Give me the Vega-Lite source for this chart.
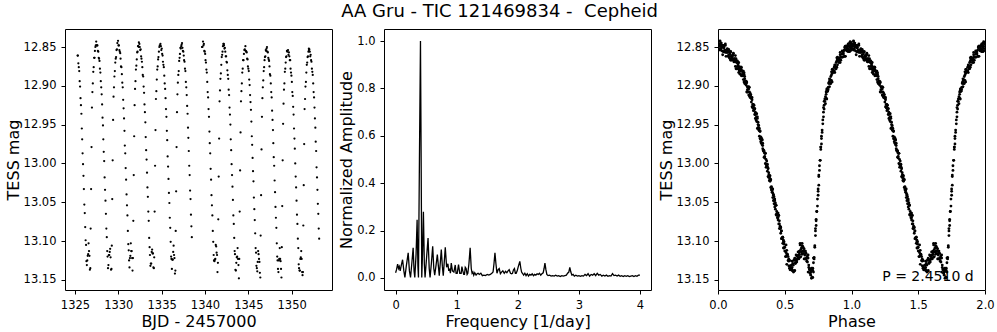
{
"$schema":"https://vega.github.io/schema/vega-lite/v6.json",
"padding":{"left":4,"top":2,"right":10,"bottom":4},
"title":{"text":"AA Gru - TIC 121469834 -\u00a0 Cepheid","fontSize":18,"offset":8},
"datasets":{
"lc":[
{"t":1325.30,"m":12.861,"p":0.11},{"t":1325.34,"m":12.861,"p":0.13},{"t":1325.39,"m":12.871,"p":0.15},{"t":1325.44,"m":12.876,"p":0.17},{"t":1325.49,"m":12.881,"p":0.19},{"t":1325.54,"m":12.894,"p":0.21},{"t":1325.59,"m":12.901,"p":0.23},{"t":1325.64,"m":12.916,"p":0.25},{"t":1325.69,"m":12.925,"p":0.27},{"t":1325.74,"m":12.936,"p":0.29},{"t":1325.79,"m":12.955,"p":0.31},{"t":1325.83,"m":12.969,"p":0.33},{"t":1325.88,"m":12.987,"p":0.35},{"t":1325.93,"m":13.001,"p":0.37},{"t":1325.98,"m":13.016,"p":0.39},{"t":1326.03,"m":13.033,"p":0.41},{"t":1326.08,"m":13.053,"p":0.43},{"t":1326.13,"m":13.064,"p":0.45},{"t":1326.18,"m":13.082,"p":0.47},{"t":1326.23,"m":13.099,"p":0.49},{"t":1326.28,"m":13.105,"p":0.51},{"t":1326.32,"m":13.126,"p":0.53},{"t":1326.37,"m":13.131,"p":0.55},{"t":1326.42,"m":13.125,"p":0.57},{"t":1326.47,"m":13.119,"p":0.59},{"t":1326.52,"m":13.117,"p":0.61},{"t":1326.57,"m":13.103,"p":0.63},{"t":1326.62,"m":13.113,"p":0.65},{"t":1326.67,"m":13.119,"p":0.67},{"t":1326.72,"m":13.137,"p":0.69},{"t":1326.77,"m":13.135,"p":0.71},{"t":1326.81,"m":13.084,"p":0.73},{"t":1326.86,"m":13.033,"p":0.75},{"t":1326.91,"m":12.979,"p":0.77},{"t":1326.96,"m":12.928,"p":0.79},{"t":1327.01,"m":12.908,"p":0.81},{"t":1327.06,"m":12.897,"p":0.83},{"t":1327.11,"m":12.882,"p":0.85},{"t":1327.16,"m":12.876,"p":0.87},{"t":1327.21,"m":12.864,"p":0.89},{"t":1327.26,"m":12.864,"p":0.91},{"t":1327.30,"m":12.855,"p":0.93},{"t":1327.35,"m":12.850,"p":0.95},{"t":1327.40,"m":12.848,"p":0.97},{"t":1327.45,"m":12.843,"p":0.99},
{"t":1327.49,"m":12.848,"p":0.005},{"t":1327.54,"m":12.848,"p":0.025},{"t":1327.59,"m":12.848,"p":0.045},{"t":1327.64,"m":12.855,"p":0.065},{"t":1327.69,"m":12.856,"p":0.085},{"t":1327.74,"m":12.864,"p":0.105},{"t":1327.78,"m":12.865,"p":0.125},{"t":1327.83,"m":12.868,"p":0.145},{"t":1327.88,"m":12.878,"p":0.165},{"t":1327.93,"m":12.883,"p":0.185},{"t":1327.98,"m":12.894,"p":0.205},{"t":1328.03,"m":12.902,"p":0.225},{"t":1328.08,"m":12.911,"p":0.245},{"t":1328.13,"m":12.924,"p":0.265},{"t":1328.18,"m":12.941,"p":0.285},{"t":1328.23,"m":12.951,"p":0.305},{"t":1328.27,"m":12.969,"p":0.325},{"t":1328.32,"m":12.985,"p":0.345},{"t":1328.37,"m":12.997,"p":0.365},{"t":1328.42,"m":13.018,"p":0.385},{"t":1328.47,"m":13.034,"p":0.405},{"t":1328.52,"m":13.048,"p":0.425},{"t":1328.57,"m":13.065,"p":0.445},{"t":1328.62,"m":13.084,"p":0.465},{"t":1328.67,"m":13.095,"p":0.485},{"t":1328.72,"m":13.113,"p":0.505},{"t":1328.76,"m":13.120,"p":0.525},{"t":1328.81,"m":13.135,"p":0.545},{"t":1328.86,"m":13.131,"p":0.565},{"t":1328.91,"m":13.118,"p":0.585},{"t":1328.96,"m":13.118,"p":0.605},{"t":1329.01,"m":13.114,"p":0.625},{"t":1329.06,"m":13.110,"p":0.645},{"t":1329.11,"m":13.121,"p":0.665},{"t":1329.16,"m":13.137,"p":0.685},{"t":1329.21,"m":13.136,"p":0.705},{"t":1329.25,"m":13.106,"p":0.725},{"t":1329.30,"m":13.046,"p":0.745},{"t":1329.35,"m":12.996,"p":0.765},{"t":1329.40,"m":12.944,"p":0.785},{"t":1329.45,"m":12.914,"p":0.805},{"t":1329.50,"m":12.902,"p":0.825},{"t":1329.55,"m":12.888,"p":0.845},{"t":1329.60,"m":12.881,"p":0.865},{"t":1329.65,"m":12.870,"p":0.885},{"t":1329.70,"m":12.865,"p":0.905},{"t":1329.74,"m":12.863,"p":0.925},{"t":1329.79,"m":12.854,"p":0.945},{"t":1329.84,"m":12.853,"p":0.965},{"t":1329.89,"m":12.845,"p":0.985},
{"t":1329.97,"m":12.842,"p":0.015},{"t":1330.02,"m":12.848,"p":0.035},{"t":1330.07,"m":12.848,"p":0.055},{"t":1330.12,"m":12.854,"p":0.075},{"t":1330.17,"m":12.856,"p":0.095},{"t":1330.22,"m":12.858,"p":0.115},{"t":1330.26,"m":12.865,"p":0.135},{"t":1330.31,"m":12.875,"p":0.155},{"t":1330.36,"m":12.876,"p":0.175},{"t":1330.41,"m":12.885,"p":0.195},{"t":1330.46,"m":12.896,"p":0.215},{"t":1330.51,"m":12.902,"p":0.235},{"t":1330.56,"m":12.918,"p":0.255},{"t":1330.61,"m":12.929,"p":0.275},{"t":1330.66,"m":12.942,"p":0.295},{"t":1330.71,"m":12.958,"p":0.315},{"t":1330.75,"m":12.977,"p":0.335},{"t":1330.80,"m":12.987,"p":0.355},{"t":1330.85,"m":13.006,"p":0.375},{"t":1330.90,"m":13.021,"p":0.395},{"t":1330.95,"m":13.040,"p":0.415},{"t":1331.00,"m":13.054,"p":0.435},{"t":1331.05,"m":13.067,"p":0.455},{"t":1331.10,"m":13.087,"p":0.475},{"t":1331.15,"m":13.104,"p":0.495},{"t":1331.20,"m":13.112,"p":0.515},{"t":1331.24,"m":13.125,"p":0.535},{"t":1331.29,"m":13.134,"p":0.555},{"t":1331.34,"m":13.122,"p":0.575},{"t":1331.39,"m":13.119,"p":0.595},{"t":1331.44,"m":13.103,"p":0.615},{"t":1331.49,"m":13.113,"p":0.635},{"t":1331.54,"m":13.113,"p":0.655},{"t":1331.59,"m":13.122,"p":0.675},{"t":1331.64,"m":13.138,"p":0.695},{"t":1331.69,"m":13.122,"p":0.715},{"t":1331.73,"m":13.074,"p":0.735},{"t":1331.78,"m":13.015,"p":0.755},{"t":1331.83,"m":12.965,"p":0.775},{"t":1331.88,"m":12.925,"p":0.795},{"t":1331.93,"m":12.904,"p":0.815},{"t":1331.98,"m":12.894,"p":0.835},{"t":1332.03,"m":12.879,"p":0.855},{"t":1332.08,"m":12.874,"p":0.875},{"t":1332.13,"m":12.866,"p":0.895},{"t":1332.18,"m":12.857,"p":0.915},{"t":1332.22,"m":12.856,"p":0.935},{"t":1332.27,"m":12.849,"p":0.955},{"t":1332.32,"m":12.849,"p":0.975},{"t":1332.37,"m":12.844,"p":0.995},
{"t":1332.38,"m":12.850,"p":0.0},{"t":1332.43,"m":12.846,"p":0.02},{"t":1332.48,"m":12.850,"p":0.04},{"t":1332.53,"m":12.854,"p":0.06},{"t":1332.58,"m":12.853,"p":0.08},{"t":1332.63,"m":12.862,"p":0.10},{"t":1332.67,"m":12.865,"p":0.12},{"t":1332.72,"m":12.869,"p":0.14},{"t":1332.77,"m":12.876,"p":0.16},{"t":1332.82,"m":12.886,"p":0.18},{"t":1332.87,"m":12.888,"p":0.20},{"t":1332.92,"m":12.901,"p":0.22},{"t":1332.97,"m":12.909,"p":0.24},{"t":1333.02,"m":12.924,"p":0.26},{"t":1333.07,"m":12.934,"p":0.28},{"t":1333.12,"m":12.947,"p":0.30},{"t":1333.16,"m":12.966,"p":0.32},{"t":1333.21,"m":12.983,"p":0.34},{"t":1333.26,"m":12.995,"p":0.36},{"t":1333.31,"m":13.012,"p":0.38},{"t":1333.36,"m":13.031,"p":0.40},{"t":1333.41,"m":13.043,"p":0.42},{"t":1333.46,"m":13.062,"p":0.44},{"t":1333.51,"m":13.074,"p":0.46},{"t":1333.56,"m":13.096,"p":0.48},{"t":1333.61,"m":13.108,"p":0.50},{"t":1333.65,"m":13.118,"p":0.52},{"t":1333.70,"m":13.132,"p":0.54},{"t":1333.75,"m":13.129,"p":0.56},{"t":1333.80,"m":13.129,"p":0.58},{"t":1333.85,"m":13.114,"p":0.60},{"t":1333.90,"m":13.111,"p":0.62},{"t":1333.95,"m":13.116,"p":0.64},{"t":1334.00,"m":13.116,"p":0.66},{"t":1334.05,"m":13.134,"p":0.68},{"t":1334.10,"m":13.135,"p":0.70},{"t":1334.14,"m":13.121,"p":0.72},{"t":1334.19,"m":13.062,"p":0.74},{"t":1334.24,"m":13.003,"p":0.76},{"t":1334.29,"m":12.957,"p":0.78},{"t":1334.34,"m":12.917,"p":0.80},{"t":1334.39,"m":12.907,"p":0.82},{"t":1334.44,"m":12.892,"p":0.84},{"t":1334.49,"m":12.879,"p":0.86},{"t":1334.54,"m":12.875,"p":0.88},{"t":1334.59,"m":12.866,"p":0.90},{"t":1334.63,"m":12.863,"p":0.92},{"t":1334.68,"m":12.856,"p":0.94},{"t":1334.73,"m":12.850,"p":0.96},{"t":1334.78,"m":12.848,"p":0.98},
{"t":1334.86,"m":12.846,"p":0.01},{"t":1334.91,"m":12.849,"p":0.03},{"t":1334.96,"m":12.854,"p":0.05},{"t":1335.01,"m":12.852,"p":0.07},{"t":1335.06,"m":12.859,"p":0.09},{"t":1335.11,"m":12.861,"p":0.11},{"t":1335.15,"m":12.869,"p":0.13},{"t":1335.20,"m":12.873,"p":0.15},{"t":1335.25,"m":12.876,"p":0.17},{"t":1335.30,"m":12.887,"p":0.19},{"t":1335.35,"m":12.897,"p":0.21},{"t":1335.40,"m":12.904,"p":0.23},{"t":1335.45,"m":12.916,"p":0.25},{"t":1335.50,"m":12.930,"p":0.27},{"t":1335.55,"m":12.940,"p":0.29},{"t":1335.60,"m":12.958,"p":0.31},{"t":1335.64,"m":12.970,"p":0.33},{"t":1335.69,"m":12.991,"p":0.35},{"t":1335.74,"m":13.004,"p":0.37},{"t":1335.79,"m":13.020,"p":0.39},{"t":1335.84,"m":13.038,"p":0.41},{"t":1335.89,"m":13.051,"p":0.43},{"t":1335.94,"m":13.070,"p":0.45},{"t":1335.99,"m":13.083,"p":0.47},{"t":1336.04,"m":13.101,"p":0.49},{"t":1336.09,"m":13.120,"p":0.51},{"t":1336.13,"m":13.123,"p":0.53},{"t":1336.18,"m":13.136,"p":0.55},{"t":1336.23,"m":13.124,"p":0.57},{"t":1336.28,"m":13.124,"p":0.59},{"t":1336.33,"m":13.114,"p":0.61},{"t":1336.38,"m":13.106,"p":0.63},{"t":1336.43,"m":13.118,"p":0.65},{"t":1336.48,"m":13.122,"p":0.67},{"t":1336.53,"m":13.142,"p":0.69},{"t":1336.58,"m":13.138,"p":0.71},{"t":1336.62,"m":13.087,"p":0.73},{"t":1336.67,"m":13.036,"p":0.75},{"t":1336.72,"m":12.979,"p":0.77},{"t":1336.77,"m":12.934,"p":0.79},{"t":1336.82,"m":12.911,"p":0.81},{"t":1336.87,"m":12.896,"p":0.83},{"t":1336.92,"m":12.886,"p":0.85},{"t":1336.97,"m":12.881,"p":0.87},{"t":1337.02,"m":12.868,"p":0.89},{"t":1337.07,"m":12.864,"p":0.91},{"t":1337.11,"m":12.859,"p":0.93},{"t":1337.16,"m":12.851,"p":0.95},{"t":1337.21,"m":12.852,"p":0.97},{"t":1337.26,"m":12.849,"p":0.99},
{"t":1337.30,"m":12.847,"p":0.005},{"t":1337.35,"m":12.845,"p":0.025},{"t":1337.40,"m":12.851,"p":0.045},{"t":1337.45,"m":12.855,"p":0.065},{"t":1337.50,"m":12.856,"p":0.085},{"t":1337.55,"m":12.861,"p":0.105},{"t":1337.59,"m":12.867,"p":0.125},{"t":1337.64,"m":12.869,"p":0.145},{"t":1337.69,"m":12.878,"p":0.165},{"t":1337.74,"m":12.881,"p":0.185},{"t":1337.79,"m":12.895,"p":0.205},{"t":1337.84,"m":12.902,"p":0.225},{"t":1337.89,"m":12.912,"p":0.245},{"t":1337.94,"m":12.926,"p":0.265},{"t":1337.99,"m":12.936,"p":0.285},{"t":1338.04,"m":12.954,"p":0.305},{"t":1338.08,"m":12.967,"p":0.325},{"t":1338.13,"m":12.984,"p":0.345},{"t":1338.18,"m":13.003,"p":0.365},{"t":1338.23,"m":13.015,"p":0.385},{"t":1338.28,"m":13.035,"p":0.405},{"t":1338.33,"m":13.046,"p":0.425},{"t":1338.38,"m":13.066,"p":0.445},{"t":1338.43,"m":13.081,"p":0.465},{"t":1338.48,"m":13.095,"p":0.485},{"t":1339.65,"m":12.850,"p":0.965},{"t":1339.70,"m":12.850,"p":0.985},
{"t":1339.77,"m":12.843,"p":0.015},{"t":1339.82,"m":12.848,"p":0.035},{"t":1339.87,"m":12.846,"p":0.055},{"t":1339.92,"m":12.855,"p":0.075},{"t":1339.97,"m":12.856,"p":0.095},{"t":1340.02,"m":12.859,"p":0.115},{"t":1340.06,"m":12.867,"p":0.135},{"t":1340.11,"m":12.870,"p":0.155},{"t":1340.16,"m":12.879,"p":0.175},{"t":1340.21,"m":12.883,"p":0.195},{"t":1340.26,"m":12.895,"p":0.215},{"t":1340.31,"m":12.908,"p":0.235},{"t":1340.36,"m":12.915,"p":0.255},{"t":1340.41,"m":12.930,"p":0.275},{"t":1340.46,"m":12.940,"p":0.295},{"t":1340.51,"m":12.959,"p":0.315},{"t":1340.55,"m":12.974,"p":0.335},{"t":1340.60,"m":12.987,"p":0.355},{"t":1340.65,"m":13.007,"p":0.375},{"t":1340.70,"m":13.021,"p":0.395},{"t":1340.75,"m":13.041,"p":0.415},{"t":1340.80,"m":13.054,"p":0.435},{"t":1340.85,"m":13.067,"p":0.455},{"t":1340.90,"m":13.087,"p":0.475},{"t":1340.95,"m":13.101,"p":0.495},{"t":1341.00,"m":13.118,"p":0.515},{"t":1341.04,"m":13.125,"p":0.535},{"t":1341.09,"m":13.126,"p":0.555},{"t":1341.14,"m":13.124,"p":0.575},{"t":1341.19,"m":13.123,"p":0.595},{"t":1341.24,"m":13.105,"p":0.615},{"t":1341.29,"m":13.107,"p":0.635},{"t":1341.34,"m":13.115,"p":0.655},{"t":1341.39,"m":13.118,"p":0.675},{"t":1341.44,"m":13.140,"p":0.695},{"t":1341.49,"m":13.128,"p":0.715},{"t":1341.53,"m":13.072,"p":0.735},{"t":1341.58,"m":13.017,"p":0.755},{"t":1341.63,"m":12.968,"p":0.775},{"t":1341.68,"m":12.920,"p":0.795},{"t":1341.73,"m":12.906,"p":0.815},{"t":1341.78,"m":12.891,"p":0.835},{"t":1341.83,"m":12.884,"p":0.855},{"t":1341.88,"m":12.873,"p":0.875},{"t":1341.93,"m":12.863,"p":0.895},{"t":1341.98,"m":12.860,"p":0.915},{"t":1342.02,"m":12.856,"p":0.935},{"t":1342.07,"m":12.849,"p":0.955},{"t":1342.12,"m":12.846,"p":0.975},{"t":1342.17,"m":12.846,"p":0.995},
{"t":1342.19,"m":12.848,"p":0.0},{"t":1342.24,"m":12.852,"p":0.02},{"t":1342.29,"m":12.851,"p":0.04},{"t":1342.34,"m":12.856,"p":0.06},{"t":1342.39,"m":12.862,"p":0.08},{"t":1342.44,"m":12.862,"p":0.10},{"t":1342.48,"m":12.869,"p":0.12},{"t":1342.53,"m":12.870,"p":0.14},{"t":1342.58,"m":12.880,"p":0.16},{"t":1342.63,"m":12.886,"p":0.18},{"t":1342.68,"m":12.891,"p":0.20},{"t":1342.73,"m":12.905,"p":0.22},{"t":1342.78,"m":12.912,"p":0.24},{"t":1342.83,"m":12.928,"p":0.26},{"t":1342.88,"m":12.937,"p":0.28},{"t":1342.93,"m":12.950,"p":0.30},{"t":1342.97,"m":12.969,"p":0.32},{"t":1343.02,"m":12.983,"p":0.34},{"t":1343.07,"m":13.001,"p":0.36},{"t":1343.12,"m":13.015,"p":0.38},{"t":1343.17,"m":13.030,"p":0.40},{"t":1343.22,"m":13.047,"p":0.42},{"t":1343.27,"m":13.067,"p":0.44},{"t":1343.32,"m":13.078,"p":0.46},{"t":1343.37,"m":13.096,"p":0.48},{"t":1343.42,"m":13.113,"p":0.50},{"t":1343.46,"m":13.117,"p":0.52},{"t":1343.51,"m":13.137,"p":0.54},{"t":1343.56,"m":13.138,"p":0.56},{"t":1343.61,"m":13.128,"p":0.58},{"t":1343.66,"m":13.121,"p":0.60},{"t":1343.71,"m":13.120,"p":0.62},{"t":1343.76,"m":13.109,"p":0.64},{"t":1343.81,"m":13.123,"p":0.66},{"t":1343.86,"m":13.131,"p":0.68},{"t":1343.91,"m":13.148,"p":0.70},{"t":1343.95,"m":13.123,"p":0.72},{"t":1344.00,"m":13.062,"p":0.74},{"t":1344.05,"m":13.009,"p":0.76},{"t":1344.10,"m":12.960,"p":0.78},{"t":1344.15,"m":12.920,"p":0.80},{"t":1344.20,"m":12.907,"p":0.82},{"t":1344.25,"m":12.897,"p":0.84},{"t":1344.30,"m":12.883,"p":0.86},{"t":1344.35,"m":12.878,"p":0.88},{"t":1344.40,"m":12.867,"p":0.90},{"t":1344.44,"m":12.867,"p":0.92},{"t":1344.49,"m":12.859,"p":0.94},{"t":1344.54,"m":12.854,"p":0.96},{"t":1344.59,"m":12.853,"p":0.98},
{"t":1344.66,"m":12.849,"p":0.01},{"t":1344.71,"m":12.855,"p":0.03},{"t":1344.76,"m":12.856,"p":0.05},{"t":1344.81,"m":12.857,"p":0.07},{"t":1344.86,"m":12.865,"p":0.09},{"t":1344.91,"m":12.866,"p":0.11},{"t":1344.95,"m":12.875,"p":0.13},{"t":1345.00,"m":12.878,"p":0.15},{"t":1345.05,"m":12.881,"p":0.17},{"t":1345.10,"m":12.892,"p":0.19},{"t":1345.15,"m":12.899,"p":0.21},{"t":1345.20,"m":12.912,"p":0.23},{"t":1345.25,"m":12.921,"p":0.25},{"t":1345.30,"m":12.931,"p":0.27},{"t":1345.35,"m":12.946,"p":0.29},{"t":1345.40,"m":12.965,"p":0.31},{"t":1345.44,"m":12.976,"p":0.33},{"t":1345.49,"m":12.993,"p":0.35},{"t":1345.54,"m":13.010,"p":0.37},{"t":1345.59,"m":13.023,"p":0.39},{"t":1345.64,"m":13.044,"p":0.41},{"t":1345.69,"m":13.059,"p":0.43},{"t":1345.74,"m":13.073,"p":0.45},{"t":1345.79,"m":13.090,"p":0.47},{"t":1345.84,"m":13.109,"p":0.49},{"t":1345.89,"m":13.115,"p":0.51},{"t":1345.93,"m":13.132,"p":0.53},{"t":1345.98,"m":13.135,"p":0.55},{"t":1346.03,"m":13.139,"p":0.57},{"t":1346.08,"m":13.127,"p":0.59},{"t":1346.13,"m":13.113,"p":0.61},{"t":1346.18,"m":13.117,"p":0.63},{"t":1346.23,"m":13.123,"p":0.65},{"t":1346.28,"m":13.127,"p":0.67},{"t":1346.33,"m":13.141,"p":0.69},{"t":1346.38,"m":13.147,"p":0.71},{"t":1346.42,"m":13.093,"p":0.73},{"t":1346.47,"m":13.041,"p":0.75},{"t":1346.52,"m":12.982,"p":0.77},{"t":1346.57,"m":12.940,"p":0.79},{"t":1346.62,"m":12.916,"p":0.81},{"t":1346.67,"m":12.902,"p":0.83},{"t":1346.72,"m":12.893,"p":0.85},{"t":1346.77,"m":12.881,"p":0.87},{"t":1346.82,"m":12.876,"p":0.89},{"t":1346.87,"m":12.867,"p":0.91},{"t":1346.91,"m":12.863,"p":0.93},{"t":1346.96,"m":12.862,"p":0.95},{"t":1347.01,"m":12.854,"p":0.97},{"t":1347.06,"m":12.855,"p":0.99},
{"t":1347.10,"m":12.852,"p":0.005},{"t":1347.15,"m":12.850,"p":0.025},{"t":1347.20,"m":12.856,"p":0.045},{"t":1347.25,"m":12.857,"p":0.065},{"t":1347.30,"m":12.864,"p":0.085},{"t":1347.35,"m":12.866,"p":0.105},{"t":1347.39,"m":12.868,"p":0.125},{"t":1347.44,"m":12.875,"p":0.145},{"t":1347.49,"m":12.885,"p":0.165},{"t":1347.54,"m":12.887,"p":0.185},{"t":1347.59,"m":12.897,"p":0.205},{"t":1347.64,"m":12.908,"p":0.225},{"t":1347.69,"m":12.915,"p":0.245},{"t":1347.74,"m":12.932,"p":0.265},{"t":1347.79,"m":12.944,"p":0.285},{"t":1347.84,"m":12.957,"p":0.305},{"t":1347.88,"m":12.974,"p":0.325},{"t":1347.93,"m":12.992,"p":0.345},{"t":1347.98,"m":13.003,"p":0.365},{"t":1348.03,"m":13.022,"p":0.385},{"t":1348.08,"m":13.037,"p":0.405},{"t":1348.13,"m":13.056,"p":0.425},{"t":1348.18,"m":13.070,"p":0.445},{"t":1348.23,"m":13.083,"p":0.465},{"t":1348.28,"m":13.103,"p":0.485},{"t":1348.33,"m":13.120,"p":0.505},{"t":1348.37,"m":13.125,"p":0.525},{"t":1348.42,"m":13.136,"p":0.545},{"t":1348.47,"m":13.140,"p":0.565},{"t":1348.52,"m":13.125,"p":0.585},{"t":1348.57,"m":13.123,"p":0.605},{"t":1348.62,"m":13.109,"p":0.625},{"t":1348.67,"m":13.123,"p":0.645},{"t":1348.72,"m":13.126,"p":0.665},{"t":1348.77,"m":13.136,"p":0.685},{"t":1348.82,"m":13.147,"p":0.705},{"t":1348.86,"m":13.108,"p":0.725},{"t":1348.91,"m":13.055,"p":0.745},{"t":1348.96,"m":12.996,"p":0.765},{"t":1349.01,"m":12.949,"p":0.785},{"t":1349.06,"m":12.923,"p":0.805},{"t":1349.11,"m":12.905,"p":0.825},{"t":1349.16,"m":12.897,"p":0.845},{"t":1349.21,"m":12.882,"p":0.865},{"t":1349.26,"m":12.878,"p":0.885},{"t":1349.31,"m":12.870,"p":0.905},{"t":1349.35,"m":12.863,"p":0.925},{"t":1349.40,"m":12.862,"p":0.945},{"t":1349.45,"m":12.855,"p":0.965},{"t":1349.50,"m":12.856,"p":0.985},
{"t":1349.58,"m":12.854,"p":0.015},{"t":1349.63,"m":12.860,"p":0.035},{"t":1349.68,"m":12.857,"p":0.055},{"t":1349.73,"m":12.862,"p":0.075},{"t":1349.78,"m":12.867,"p":0.095},{"t":1349.83,"m":12.867,"p":0.115},{"t":1349.87,"m":12.878,"p":0.135},{"t":1349.92,"m":12.883,"p":0.155},{"t":1349.97,"m":12.887,"p":0.175},{"t":1350.02,"m":12.895,"p":0.195},{"t":1350.07,"m":12.908,"p":0.215},{"t":1350.12,"m":12.913,"p":0.235},{"t":1350.17,"m":12.927,"p":0.255},{"t":1350.22,"m":12.937,"p":0.275},{"t":1350.27,"m":12.955,"p":0.295},{"t":1350.32,"m":12.968,"p":0.315},{"t":1350.36,"m":12.981,"p":0.335},{"t":1350.41,"m":13.000,"p":0.355},{"t":1350.46,"m":13.017,"p":0.375},{"t":1350.51,"m":13.031,"p":0.395},{"t":1350.56,"m":13.048,"p":0.415},{"t":1350.61,"m":13.066,"p":0.435},{"t":1350.66,"m":13.078,"p":0.455},{"t":1350.71,"m":13.097,"p":0.475},{"t":1350.76,"m":13.109,"p":0.495},{"t":1350.81,"m":13.130,"p":0.515},{"t":1350.85,"m":13.135,"p":0.535},{"t":1350.90,"m":13.138,"p":0.555},{"t":1350.95,"m":13.138,"p":0.575},{"t":1351.00,"m":13.123,"p":0.595},{"t":1351.05,"m":13.121,"p":0.615},{"t":1351.10,"m":13.113,"p":0.635},{"t":1351.15,"m":13.123,"p":0.655},{"t":1351.20,"m":13.140,"p":0.675},{"t":1351.25,"m":13.144,"p":0.695},{"t":1351.30,"m":13.140,"p":0.715},{"t":1351.34,"m":13.080,"p":0.735},{"t":1351.39,"m":13.028,"p":0.755},{"t":1351.44,"m":12.975,"p":0.775},{"t":1351.49,"m":12.930,"p":0.795},{"t":1351.54,"m":12.917,"p":0.815},{"t":1351.59,"m":12.901,"p":0.835},{"t":1351.64,"m":12.895,"p":0.855},{"t":1351.69,"m":12.883,"p":0.875},{"t":1351.74,"m":12.873,"p":0.895},{"t":1351.79,"m":12.870,"p":0.915},{"t":1351.83,"m":12.863,"p":0.935},{"t":1351.88,"m":12.862,"p":0.955},{"t":1351.93,"m":12.856,"p":0.975},{"t":1351.98,"m":12.852,"p":0.995},
{"t":1351.99,"m":12.854,"p":0.0},{"t":1352.04,"m":12.853,"p":0.02},{"t":1352.09,"m":12.856,"p":0.04},{"t":1352.14,"m":12.862,"p":0.06},{"t":1352.19,"m":12.860,"p":0.08},{"t":1352.24,"m":12.867,"p":0.10},{"t":1352.28,"m":12.869,"p":0.12},{"t":1352.33,"m":12.878,"p":0.14},{"t":1352.38,"m":12.882,"p":0.16},{"t":1352.43,"m":12.886,"p":0.18},{"t":1352.48,"m":12.897,"p":0.20},{"t":1352.53,"m":12.908,"p":0.22},{"t":1352.58,"m":12.915,"p":0.24},{"t":1352.63,"m":12.928,"p":0.26},{"t":1352.68,"m":12.942,"p":0.28},{"t":1352.73,"m":12.954,"p":0.30},{"t":1352.77,"m":12.972,"p":0.32},{"t":1352.82,"m":12.984,"p":0.34},{"t":1352.87,"m":13.005,"p":0.36},{"t":1352.92,"m":13.018,"p":0.38},{"t":1352.97,"m":13.034,"p":0.40},{"t":1353.02,"m":13.052,"p":0.42},{"t":1353.07,"m":13.065,"p":0.44},{"t":1353.12,"m":13.084,"p":0.46},{"t":1353.17,"m":13.097,"p":0.48}
],
"pg":[
{"f":0.000,"a":0.022},{"f":0.015,"a":0.035},{"f":0.033,"a":0.058},{"f":0.048,"a":0.040},{"f":0.060,"a":0.048},{"f":0.075,"a":0.030},{"f":0.090,"a":0.050},{"f":0.114,"a":0.077},{"f":0.135,"a":0.030},{"f":0.152,"a":0.002},{"f":0.175,"a":0.050},{"f":0.206,"a":0.106},{"f":0.226,"a":0.030},{"f":0.244,"a":0.002},{"f":0.265,"a":0.060},{"f":0.287,"a":0.127},{"f":0.302,"a":0.030},{"f":0.314,"a":0.002},{"f":0.335,"a":0.100},{"f":0.352,"a":0.246},{"f":0.365,"a":0.050},{"f":0.374,"a":0.002},{"f":0.390,"a":0.500},{"f":0.407,"a":1.000},{"f":0.418,"a":0.500},{"f":0.428,"a":0.002},{"f":0.440,"a":0.100},{"f":0.455,"a":0.279},{"f":0.470,"a":0.060},{"f":0.482,"a":0.002},{"f":0.505,"a":0.080},{"f":0.531,"a":0.169},{"f":0.550,"a":0.040},{"f":0.564,"a":0.002},{"f":0.585,"a":0.060},{"f":0.607,"a":0.134},{"f":0.625,"a":0.040},{"f":0.640,"a":0.012},{"f":0.660,"a":0.050},{"f":0.683,"a":0.099},{"f":0.700,"a":0.050},{"f":0.715,"a":0.010},{"f":0.730,"a":0.060},{"f":0.748,"a":0.120},{"f":0.765,"a":0.050},{"f":0.780,"a":0.010},{"f":0.797,"a":0.070},{"f":0.813,"a":0.130},{"f":0.835,"a":0.045},{"f":0.856,"a":0.060},{"f":0.870,"a":0.030},{"f":0.883,"a":0.040},{"f":0.897,"a":0.020},{"f":0.911,"a":0.063},{"f":0.930,"a":0.030},{"f":0.954,"a":0.025},{"f":0.976,"a":0.055},{"f":0.990,"a":0.020},{"f":1.008,"a":0.020},{"f":1.030,"a":0.056},{"f":1.050,"a":0.020},{"f":1.073,"a":0.020},{"f":1.085,"a":0.048},{"f":1.100,"a":0.030},{"f":1.115,"a":0.015},{"f":1.127,"a":0.015},{"f":1.140,"a":0.045},{"f":1.154,"a":0.040},{"f":1.170,"a":0.015},{"f":1.182,"a":0.020},{"f":1.200,"a":0.060},{"f":1.220,"a":0.127},{"f":1.238,"a":0.040},{"f":1.252,"a":0.020},{"f":1.265,"a":0.025},{"f":1.279,"a":0.012},{"f":1.295,"a":0.022},{"f":1.317,"a":0.012},{"f":1.335,"a":0.018},{"f":1.350,"a":0.020},{"f":1.370,"a":0.015},{"f":1.395,"a":0.020},{"f":1.420,"a":0.010},{"f":1.445,"a":0.012},{"f":1.470,"a":0.010},{"f":1.500,"a":0.015},{"f":1.525,"a":0.012},{"f":1.550,"a":0.015},{"f":1.575,"a":0.020},{"f":1.595,"a":0.025},{"f":1.610,"a":0.060},{"f":1.626,"a":0.106},{"f":1.642,"a":0.060},{"f":1.659,"a":0.020},{"f":1.678,"a":0.035},{"f":1.696,"a":0.040},{"f":1.715,"a":0.018},{"f":1.734,"a":0.025},{"f":1.755,"a":0.030},{"f":1.778,"a":0.020},{"f":1.800,"a":0.028},{"f":1.821,"a":0.022},{"f":1.840,"a":0.030},{"f":1.859,"a":0.035},{"f":1.880,"a":0.020},{"f":1.900,"a":0.018},{"f":1.913,"a":0.020},{"f":1.930,"a":0.035},{"f":1.945,"a":0.040},{"f":1.960,"a":0.020},{"f":1.973,"a":0.020},{"f":1.990,"a":0.030},{"f":2.010,"a":0.050},{"f":2.033,"a":0.070},{"f":2.050,"a":0.040},{"f":2.062,"a":0.025},{"f":2.076,"a":0.020},{"f":2.095,"a":0.012},{"f":2.115,"a":0.020},{"f":2.135,"a":0.010},{"f":2.155,"a":0.018},{"f":2.175,"a":0.008},{"f":2.195,"a":0.015},{"f":2.215,"a":0.012},{"f":2.235,"a":0.018},{"f":2.255,"a":0.010},{"f":2.275,"a":0.015},{"f":2.295,"a":0.012},{"f":2.315,"a":0.018},{"f":2.335,"a":0.015},{"f":2.355,"a":0.020},{"f":2.375,"a":0.012},{"f":2.395,"a":0.018},{"f":2.415,"a":0.022},{"f":2.430,"a":0.040},{"f":2.444,"a":0.063},{"f":2.460,"a":0.035},{"f":2.475,"a":0.015},{"f":2.495,"a":0.010},{"f":2.520,"a":0.012},{"f":2.545,"a":0.008},{"f":2.570,"a":0.010},{"f":2.595,"a":0.008},{"f":2.620,"a":0.012},{"f":2.645,"a":0.008},{"f":2.670,"a":0.010},{"f":2.695,"a":0.006},{"f":2.720,"a":0.010},{"f":2.745,"a":0.008},{"f":2.770,"a":0.010},{"f":2.795,"a":0.012},{"f":2.815,"a":0.020},{"f":2.835,"a":0.025},{"f":2.851,"a":0.045},{"f":2.868,"a":0.025},{"f":2.885,"a":0.012},{"f":2.905,"a":0.015},{"f":2.925,"a":0.008},{"f":2.950,"a":0.012},{"f":2.975,"a":0.008},{"f":3.000,"a":0.010},{"f":3.025,"a":0.007},{"f":3.050,"a":0.010},{"f":3.075,"a":0.008},{"f":3.100,"a":0.015},{"f":3.125,"a":0.010},{"f":3.150,"a":0.018},{"f":3.175,"a":0.008},{"f":3.200,"a":0.015},{"f":3.225,"a":0.012},{"f":3.250,"a":0.018},{"f":3.275,"a":0.010},{"f":3.300,"a":0.020},{"f":3.325,"a":0.012},{"f":3.350,"a":0.015},{"f":3.375,"a":0.008},{"f":3.400,"a":0.012},{"f":3.425,"a":0.008},{"f":3.450,"a":0.012},{"f":3.475,"a":0.007},{"f":3.500,"a":0.010},{"f":3.525,"a":0.008},{"f":3.550,"a":0.018},{"f":3.575,"a":0.010},{"f":3.600,"a":0.012},{"f":3.625,"a":0.008},{"f":3.650,"a":0.012},{"f":3.675,"a":0.007},{"f":3.700,"a":0.010},{"f":3.725,"a":0.006},{"f":3.750,"a":0.010},{"f":3.775,"a":0.007},{"f":3.800,"a":0.010},{"f":3.825,"a":0.006},{"f":3.850,"a":0.008},{"f":3.875,"a":0.010},{"f":3.900,"a":0.006},{"f":3.925,"a":0.010},{"f":3.950,"a":0.007},{"f":3.975,"a":0.012},{"f":4.000,"a":0.012}
],
"lab":[{"p":1.915,"m":13.152,"s":"P = 2.4510 d"}]
},
"spacing":5,
"hconcat":[
{"width":267,"height":261,"data":{"name":"lc"},
"mark":{"type":"circle","size":5,"color":"#000","opacity":1},
"encoding":{
"x":{"field":"t","type":"quantitative","scale":{"domain":[1323.85,1354.65],"nice":false,"zero":false},"axis":{"values":[1325,1330,1335,1340,1345,1350],"format":"d","title":"BJD - 2457000"}},
"y":{"field":"m","type":"quantitative","scale":{"domain":[12.8268,13.1631],"reverse":true,"nice":false,"zero":false},"axis":{"values":[12.85,12.9,12.95,13,13.05,13.1,13.15],"format":".2f","title":"TESS mag"}}}},
{"width":267,"height":261,"data":{"name":"pg"},
"mark":{"type":"line","color":"#000","strokeWidth":1.3},
"encoding":{
"x":{"field":"f","type":"quantitative","scale":{"domain":[-0.19,4.18],"nice":false,"zero":false},"axis":{"values":[0,1,2,3,4],"format":"d","title":"Frequency [1/day]"}},
"y":{"field":"a","type":"quantitative","scale":{"domain":[-0.0507,1.0507],"nice":false,"zero":false},"axis":{"values":[0,0.2,0.4,0.6,0.8,1.0],"format":".1f","title":"Normalized Amplitude"}}}},
{"width":267,"height":261,
"layer":[
{"data":{"name":"lc"},"mark":{"type":"circle","size":8,"color":"#000","opacity":1,"clip":true},
"encoding":{
"x":{"field":"p","type":"quantitative","scale":{"domain":[0,2],"nice":false,"zero":false},"axis":{"values":[0,0.5,1,1.5,2],"format":".1f","title":"Phase"}},
"y":{"field":"m","type":"quantitative","scale":{"domain":[12.8268,13.1631],"reverse":true,"nice":false,"zero":false},"axis":{"values":[12.85,12.9,12.95,13,13.05,13.1,13.15],"format":".2f","title":"TESS mag"}}}},
{"data":{"name":"lc"},"mark":{"type":"circle","size":8,"color":"#000","opacity":1,"clip":true},
"encoding":{
"x":{"field":"p","type":"quantitative","scale":{"domain":[-1,1],"nice":false,"zero":false},"axis":null},
"y":{"field":"m","type":"quantitative"}}},
{"data":{"name":"lab"},"mark":{"type":"text","align":"right","baseline":"alphabetic","fontSize":14,"color":"#000"},
"encoding":{
"x":{"field":"p","type":"quantitative","scale":{"domain":[0,2],"nice":false,"zero":false},"axis":null},
"y":{"field":"m","type":"quantitative"},
"text":{"field":"s"}}}
],
"resolve":{"scale":{"x":"independent"},"axis":{"x":"independent"}}}
],
"config":{
"font":"DejaVu Sans",
"background":"#ffffff",
"view":{"stroke":"#000","strokeWidth":1},
"axis":{"domain":false,"grid":false,"tickColor":"#000","tickSize":4,"tickWidth":1,"labelFont":"DejaVu Sans","labelFontSize":11.5,"labelColor":"#000","labelPadding":5,"labelFlush":false,"labelOverlap":false,"titleFont":"DejaVu Sans","titleFontSize":16,"titleFontWeight":"normal","titleColor":"#000"},
"axisX":{"titlePadding":3},
"axisY":{"titlePadding":2},
"title":{"font":"DejaVu Sans","fontSize":18,"fontWeight":"normal","color":"#000","anchor":"middle"}
}
}
